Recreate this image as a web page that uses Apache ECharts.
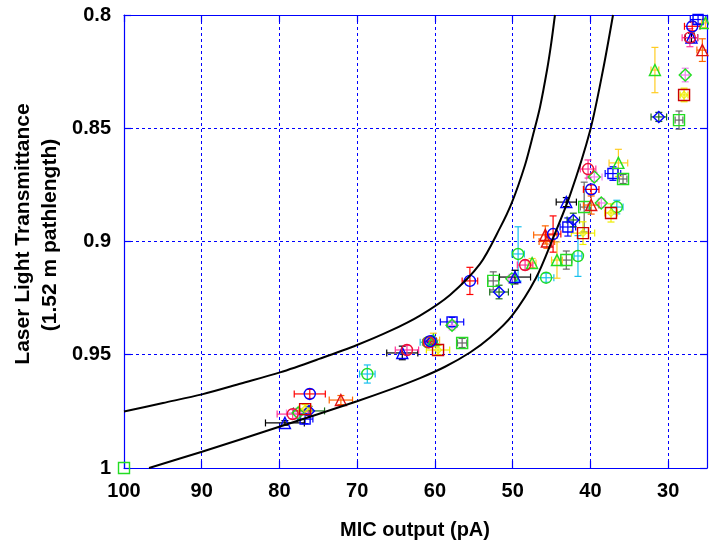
<!DOCTYPE html>
<html><head><meta charset="utf-8">
<script src="https://cdn.jsdelivr.net/npm/echarts@6/dist/echarts.min.js"></script>
<style>html,body{margin:0;padding:0;background:#fff}#c{width:709px;height:550px}</style>
</head><body><div id="c"></div>
<script>
// Axis ticks
const xTicks = [100, 90, 80, 70, 60, 50, 40, 30];
const yTicks = [0.8, 0.85, 0.9, 0.95, 1];

// Model curves: MIC output (pA) and transmittance
const curve1X = [100, 94.98, 89.97, 84.95, 79.93, 74.78, 70.02, 65.78, 61.92, 58.06, 54.20, 51.63, 50.08, 48.41, 47.38, 46.48, 45.58, 45.07, 44.56];
const curve1Y = [0.9751, 0.9713, 0.9675, 0.9627, 0.9578, 0.9517, 0.9457, 0.9395, 0.9327, 0.9236, 0.9099, 0.8940, 0.8826, 0.8662, 0.8530, 0.8406, 0.8243, 0.8132, 0.8];
const curve2X = [96.78, 89.97, 79.93, 70.02, 65.78, 61.92, 58.70, 55.49, 52.91, 50.08, 47.00, 44.81, 42.62, 40.05, 38.38, 37.09];
const curve2Y = [1.0, 0.9928, 0.9817, 0.9705, 0.9654, 0.9603, 0.9553, 0.9490, 0.9424, 0.9327, 0.9161, 0.8985, 0.8795, 0.8512, 0.8243, 0.8];

// Measurements: [MIC output pA, transmittance, x error, y error]
const blueCircleRed = [[76.1,0.9673,2.0,0.002],[60.6,0.9440,0.8,0.002],[55.5,0.9174,1.0,0.006],[44.8,0.8967,1.0,0.008],[39.9,0.8770,1.0,0.002],[26.9,0.8050,1.0,0.002]];
const redCirclePink = [[78.3,0.9762,2.0,0.002],[63.6,0.9479,1.5,0.002],[60.8,0.9445,0.8,0.002],[48.4,0.9104,1.0,0.002],[40.3,0.8680,1.0,0.004],[27.2,0.8100,1.0,0.004]];
const greenSquareGray = [[100,1.0,0,0],[56.5,0.9448,0.6,0.002],[52.5,0.9174,0.7,0.004],[43.1,0.9082,0.7,0.004],[40.8,0.8848,0.5,0.011],[35.8,0.8724,0.5,0.002],[28.6,0.8464,0.5,0.004]];
const blueTriangleBlack = [[79.3,0.9801,2.5,0.001],[64.2,0.9492,2.0,0.003],[49.7,0.9157,2.0,0.003],[43.1,0.8826,1.3,0.002],[27.0,0.8100,0.8,0.002]];
const blueDiamondGreen = [[76.2,0.9748,2.0,0.002],[60.4,0.9440,0.6,0.002],[51.75,0.9223,1.2,0.003],[42.2,0.8905,0.8,0.003],[31.2,0.8450,1.0,0.002]];
const greenCircleCyan = [[68.7,0.9585,1.0,0.004],[60.9,0.9445,1.0,0.002],[49.3,0.9055,0.8,0.012],[45.7,0.9160,1.0,0.002],[41.6,0.9064,0.5,0.009],[36.6,0.8848,0.8,0.003]];
const greenTriangleGold = [[60.2,0.9435,0.8,0.003],[47.5,0.9095,0.5,0.002],[44.3,0.9082,0.7,0.008],[36.4,0.8653,1.2,0.006],[31.7,0.8243,0.5,0.010],[25.2,0.8035,0.5,0.002]];
const redTriangleOrange = [[72.1,0.9700,1.5,0.002],[45.8,0.8971,1.5,0.004],[45.6,0.9000,1.0,0.003],[39.9,0.8839,1.0,0.004],[25.6,0.8155,0.7,0.005]];
const redSquareYellow = [[76.7,0.9740,0.8,0.002],[59.6,0.9479,1.5,0.002],[40.95,0.8963,1.5,0.005],[37.35,0.8874,0.8,0.004],[27.95,0.8353,0.5,0.003]];
const greenDiamondViolet = [[77.6,0.9757,1.5,0.002],[57.8,0.9370,0.5,0.002],[50.1,0.9165,0.5,0.002],[39.5,0.8715,1.0,0.002],[38.6,0.8830,0.5,0.002],[27.8,0.8265,0.5,0.003]];
const blueSquareBlue = [[76.7,0.9784,1.0,0.002],[57.8,0.9355,1.5,0.002],[42.9,0.8936,1.0,0.004],[37.1,0.8700,1.0,0.003],[26.15,0.8020,1.0,0.002]];

// Styles (kept apart from data)
const groups = [
  {data: blueSquareBlue, symbol: 'rect', mc: '#0000ff', bc: '#0000ff', size: 10},
  {data: greenSquareGray, symbol: 'rect', mc: '#22dd22', bc: '#666666', size: 11},
  {data: greenDiamondViolet, symbol: 'diamond', mc: '#22dd22', bc: '#ee82ee', size: 12},
  {data: blueDiamondGreen, symbol: 'diamond', mc: '#0000ff', bc: '#1b6b1b', size: 11},
  {data: greenCircleCyan, symbol: 'circle', mc: '#22dd22', bc: '#18c0ee', size: 11},
  {data: greenTriangleGold, symbol: 'triangle', mc: '#22dd22', bc: '#ffcc22', size: 11},
  {data: redTriangleOrange, symbol: 'triangle', mc: '#dd1111', bc: '#ff6600', size: 11},
  {data: redSquareYellow, symbol: 'rect', mc: '#cc0000', bc: '#eeee00', size: 11, inner: '#eeee00'},
  {data: blueTriangleBlack, symbol: 'triangle', mc: '#0000ff', bc: '#000000', size: 11},
  {data: redCirclePink, symbol: 'circle', mc: '#ee1133', bc: '#ff3399', size: 11},
  {data: blueCircleRed, symbol: 'circle', mc: '#0000ff', bc: '#ff0000', size: 11}
];

const FONT = '"Liberation Sans", Arial, Helvetica, sans-serif';
const BLUE = '#0000ff';

function toPlot(rows) { return rows.map(r => [-r[0], r[1], r[2], r[3]]); }

function errRender(params, api) {
  const vx = api.value(0), vy = api.value(1), xe = api.value(2), ye = api.value(3);
  const color = api.visual('color');
  const cap = 3.5;
  const kids = [];
  const st = {stroke: color, lineWidth: 1.2, fill: null};
  if (xe > 0) {
    const a = api.coord([vx - xe, vy]), b = api.coord([vx + xe, vy]);
    kids.push({type: 'line', shape: {x1: a[0], y1: a[1], x2: b[0], y2: b[1]}, style: st});
    kids.push({type: 'line', shape: {x1: a[0], y1: a[1] - cap, x2: a[0], y2: a[1] + cap}, style: st});
    kids.push({type: 'line', shape: {x1: b[0], y1: b[1] - cap, x2: b[0], y2: b[1] + cap}, style: st});
  }
  if (ye > 0) {
    const a = api.coord([vx, vy - ye]), b = api.coord([vx, vy + ye]);
    kids.push({type: 'line', shape: {x1: a[0], y1: a[1], x2: b[0], y2: b[1]}, style: st});
    kids.push({type: 'line', shape: {x1: a[0] - cap, y1: a[1], x2: a[0] + cap, y2: a[1]}, style: st});
    kids.push({type: 'line', shape: {x1: b[0] - cap, y1: b[1], x2: b[0] + cap, y2: b[1]}, style: st});
  }
  return {type: 'group', children: kids};
}

const series = [];
groups.forEach((g) => {
  const d = toPlot(g.data);
  series.push({
    type: 'custom', renderItem: errRender, data: d, clip: true,
    itemStyle: {color: g.bc}, z: 3, silent: true
  });
  series.push({
    type: 'scatter', data: d, symbol: g.symbol, symbolSize: g.size, clip: false,
    itemStyle: {color: 'rgba(0,0,0,0)', borderColor: g.mc, borderWidth: 1.4, opacity: 1},
    z: 4, silent: true
  });
  if (g.inner) {
    series.push({
      type: 'scatter', data: d, symbol: 'diamond', symbolSize: 7,
      itemStyle: {color: 'rgba(0,0,0,0)', borderColor: g.inner, borderWidth: 1.4},
      z: 5, silent: true
    });
  }
});

series.push({
  type: 'line', data: curve1X.map((x, i) => [-x, curve1Y[i]]), showSymbol: false,
  smooth: 0.3, lineStyle: {color: '#000', width: 2}, z: 6, silent: true
});
series.push({
  type: 'line', data: curve2X.map((x, i) => [-x, curve2Y[i]]), showSymbol: false,
  smooth: 0.3, lineStyle: {color: '#000', width: 2}, z: 6, silent: true
});

const axisLineStyle = {show: true, lineStyle: {color: BLUE, width: 1.2}};
const tickStyle = {show: true, inside: true, length: 7, lineStyle: {color: BLUE, width: 1.2}};
const splitStyle = {show: true, lineStyle: {color: BLUE, width: 1, type: [3, 3]}};
const labelStyle = {color: '#000', fontWeight: 'bold', fontSize: 20, fontFamily: FONT};

const option = {
  animation: false,
  backgroundColor: '#fff',
  grid: {left: 124, right: 2, top: 15, bottom: 82, containLabel: false},
  xAxis: [
    {type: 'value', min: -xTicks[0], max: -25, interval: 10, position: 'bottom',
     axisLine: axisLineStyle, axisTick: tickStyle, splitLine: splitStyle,
     axisLabel: Object.assign({}, labelStyle, {margin: 13, showMaxLabel: false,
       formatter: v => (xTicks.indexOf(-v) >= 0 ? String(-v) : '')})},
    {type: 'value', min: -xTicks[0], max: -25, interval: 10, position: 'top',
     axisLine: axisLineStyle, axisTick: tickStyle, splitLine: {show: false}, axisLabel: {show: false}}
  ],
  yAxis: [
    {type: 'value', min: yTicks[0], max: yTicks[yTicks.length - 1], interval: 0.05, inverse: true,
     position: 'left', axisLine: axisLineStyle, axisTick: tickStyle, splitLine: splitStyle,
     axisLabel: Object.assign({}, labelStyle, {margin: 13,
       formatter: v => { const t = yTicks.find(k => Math.abs(k - v) < 1e-6); return t === undefined ? '' : String(t); }})},
    {type: 'value', min: yTicks[0], max: yTicks[yTicks.length - 1], interval: 0.05, inverse: true,
     position: 'right', axisLine: axisLineStyle, axisTick: tickStyle, splitLine: {show: false}, axisLabel: {show: false}}
  ],
  graphic: [
    {type: 'text', x: 415, y: 530, style: {text: 'MIC output (pA)', font: 'bold 20px ' + FONT, fill: '#000', textAlign: 'center', textVerticalAlign: 'middle'}},
    {type: 'text', x: 23, y: 234, rotation: Math.PI / 2, style: {text: 'Laser Light Transmittance', font: 'bold 21px ' + FONT, fill: '#000', textAlign: 'center', textVerticalAlign: 'middle'}},
    {type: 'text', x: 50, y: 235, rotation: Math.PI / 2, style: {text: '(1.52 m pathlength)', font: 'bold 21px ' + FONT, fill: '#000', textAlign: 'center', textVerticalAlign: 'middle'}}
  ],
  series: series
};

const chart = echarts.init(document.getElementById('c'), null, {renderer: 'canvas'});
chart.setOption(option);
</script>
</body></html>
